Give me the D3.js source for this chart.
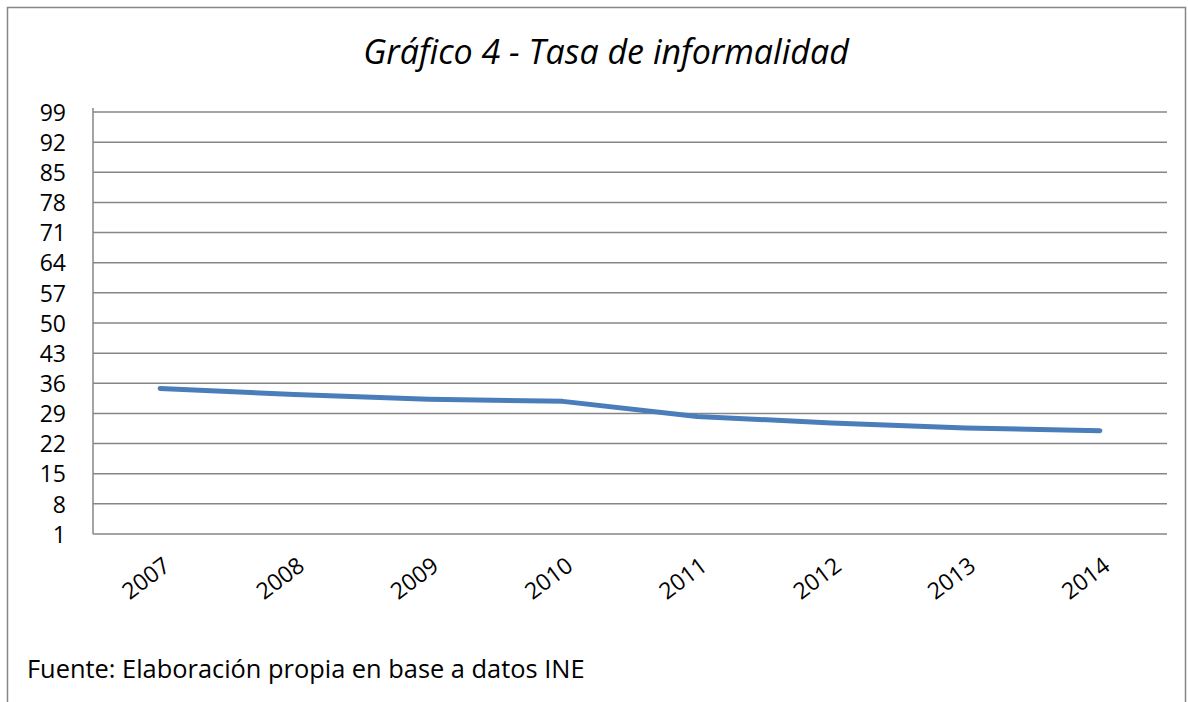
<!DOCTYPE html>
<html>
<head>
<meta charset="utf-8">
<title>Gráfico 4 - Tasa de informalidad</title>
<script src="https://cdn.jsdelivr.net/npm/d3@7"></script>
<style>
  body { margin: 0; background: #fff; }
  text { font-family: "Open Sans", sans-serif; fill: #000; }
</style>
</head>
<body>
<script>
// data
var years = ['2007', '2008', '2009', '2010', '2011', '2012', '2013', '2014']
var tasa = [34.8, 33.4, 32.3, 31.8, 28.3, 26.8, 25.6, 25.0]
var yTicks = [1, 8, 15, 22, 29, 36, 43, 50, 57, 64, 71, 78, 85, 92, 99]

var W = 1188, H = 702
var margin = { top: 112, right: 21, bottom: 168, left: 93 }
var w = W - margin.left - margin.right
var h = H - margin.top - margin.bottom

var svg = d3.select('body').append('svg')
    .attr('width', W)
    .attr('height', H)

// chart border (bottom runs off the page)
svg.append('rect')
    .attr('x', 7.5).attr('y', 7.5)
    .attr('width', 1178).attr('height', 760)
    .attr('fill', 'none')
    .attr('stroke', '#868686')
    .attr('stroke-width', 1.5)

svg.append('text')
    .attr('x', 606).attr('y', 64)
    .attr('text-anchor', 'middle')
    .style('font-style', 'italic')
    .style('font-size', '34px')
    .text('Gráfico 4 - Tasa de informalidad')

svg.append('text')
    .attr('x', 27).attr('y', 678)
    .style('font-size', '25.4px')
    .text('Fuente: Elaboración propia en base a datos INE')

var g = svg.append('g')
    .attr('transform', 'translate(' + margin.left + ',' + margin.top + ')')

var xScale = d3.scaleBand().domain(years).range([0, w])
var yScale = d3.scaleLinear().domain([1, 99]).range([h, 0])

// gridlines
g.selectAll('.grid')
    .data(yTicks)
    .enter()
    .append('line')
    .attr('x1', 0).attr('x2', w)
    .attr('y1', function (d) { return yScale(d) })
    .attr('y2', function (d) { return yScale(d) })
    .attr('stroke', '#868686')
    .attr('stroke-width', 1.5)

// y axis
var yAxis = d3.axisLeft(yScale).tickValues(yTicks).tickSize(0).tickPadding(27)
var ya = g.append('g').call(yAxis)
ya.select('.domain').remove()
ya.selectAll('text').style('font-size', '23px').attr('dy', '0.36em')
g.append('line')
    .attr('x1', 0).attr('x2', 0)
    .attr('y1', -4).attr('y2', h)
    .attr('stroke', '#868686').attr('stroke-width', 1.5)

// x axis labels
g.selectAll('.xl')
    .data(years)
    .enter()
    .append('text')
    .attr('text-anchor', 'end')
    .style('font-size', '23px')
    .attr('transform', function (d) {
        return 'translate(' + (xScale(d) + xScale.bandwidth() / 2 + 2) + ',' + (h + 22) + ') rotate(-37)'
    })
    .attr('dy', '0.7em')
    .text(function (d) { return d })

// line
var line = d3.line()
    .x(function (d, i) { return xScale(years[i]) + xScale.bandwidth() / 2 })
    .y(function (d) { return yScale(d) })

g.append('path')
    .datum(tasa)
    .attr('d', line)
    .attr('fill', 'none')
    .attr('stroke', '#4a7ebb')
    .attr('stroke-width', 5)
    .attr('stroke-linecap', 'round')
    .attr('stroke-linejoin', 'round')
</script>
</body>
</html>
